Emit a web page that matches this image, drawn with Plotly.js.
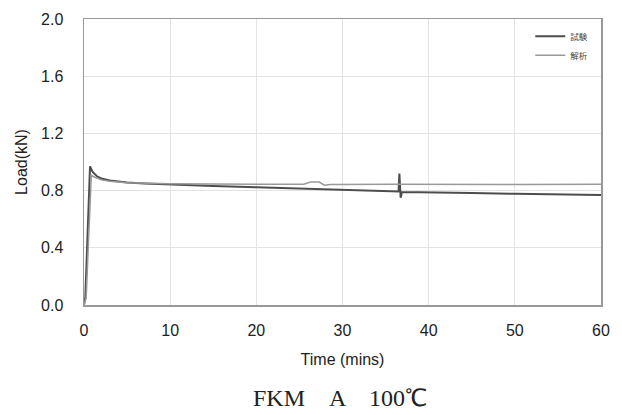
<!DOCTYPE html>
<html>
<head>
<meta charset="utf-8">
<script src="https://cdn.plot.ly/plotly-3.0.1.min.js"></script>
<style>html,body{margin:0;padding:0;background:#fff;}#chart{width:622px;height:415px;}</style>
</head>
<body>
<div id="chart"></div>
<script>
// 試験 (experiment) – darker line
const expTime = [0, 0.15, 0.7, 1.0, 1.5, 2, 3, 4, 5, 7, 10, 15, 20, 25, 30, 35, 36.5, 36.6, 36.75, 36.9, 40, 45, 50, 55, 60];
const expLoad = [0, 0.05, 0.97, 0.93, 0.9, 0.885, 0.87, 0.862, 0.856, 0.85, 0.842, 0.833, 0.823, 0.813, 0.804, 0.796, 0.794, 0.92, 0.75, 0.79, 0.789, 0.783, 0.778, 0.774, 0.77];
// 解析 (analysis) – lighter line
const anaTime = [0, 0.25, 0.85, 1.0, 2, 3, 5, 10, 20, 25.5, 26.3, 27.3, 27.9, 28.6, 36, 40, 50, 60];
const anaLoad = [0, 0.05, 0.91, 0.9, 0.875, 0.865, 0.855, 0.848, 0.845, 0.845, 0.86, 0.86, 0.838, 0.843, 0.845, 0.843, 0.843, 0.845];
const xTicks = [0, 10, 20, 30, 40, 50, 60];
const yTicks = [0.0, 0.4, 0.8, 1.2, 1.6, 2.0];
const legendNames = ['試験', '解析'];

const traces = [
  {x: expTime, y: expLoad, mode: 'lines', name: legendNames[0], line: {color: '#4d4d4d', width: 2}},
  {x: anaTime, y: anaLoad, mode: 'lines', name: legendNames[1], line: {color: '#999999', width: 1.5}}
];

const sans = 'Liberation Sans, Arial, sans-serif';
const axisFont = {family: sans, size: 16, color: '#222'};
const layout = {
  width: 622, height: 415,
  margin: {l: 84, r: 21, t: 19, b: 110},
  paper_bgcolor: '#fff', plot_bgcolor: '#fff',
  showlegend: true,
  legend: {x: 0.985, xanchor: 'right', y: 0.99, yanchor: 'top', bgcolor: 'rgba(0,0,0,0)',
           font: {family: 'Noto Sans CJK JP, sans-serif', size: 8.5, color: '#444'},
           itemwidth: 30, tracegroupgap: 0},
  xaxis: {
    range: [0, 60], tickvals: xTicks, ticktext: xTicks.map(String),
    showgrid: true, gridcolor: '#e3e3e3', gridwidth: 1,
    showline: true, linecolor: '#999', linewidth: 1.5, mirror: true,
    ticks: '', zeroline: false, tickfont: axisFont, ticklabelstandoff: 10,
    title: {text: 'Time (mins)', font: {family: sans, size: 16, color: '#222'}, standoff: 16}
  },
  yaxis: {
    range: [0, 2.0], tickvals: yTicks, ticktext: yTicks.map(v => v.toFixed(1)),
    showgrid: true, gridcolor: '#e3e3e3', gridwidth: 1,
    showline: true, linecolor: '#999', linewidth: 1.5, mirror: true,
    ticks: '', zeroline: false, tickfont: axisFont, ticklabelstandoff: 16,
    title: {text: 'Load(kN)', font: {family: sans, size: 16, color: '#222'}, standoff: 9}
  },
  annotations: [{
    text: 'FKM　A　100℃', xref: 'paper', yref: 'paper', x: 0.495, y: -0.325, yanchor: 'middle', xanchor: 'center',
    showarrow: false, font: {family: 'Liberation Serif, Times New Roman, serif', size: 24, color: '#222'}
  }]
};

Plotly.newPlot('chart', traces, layout, {displayModeBar: false, staticPlot: true});
</script>
</body>
</html>
